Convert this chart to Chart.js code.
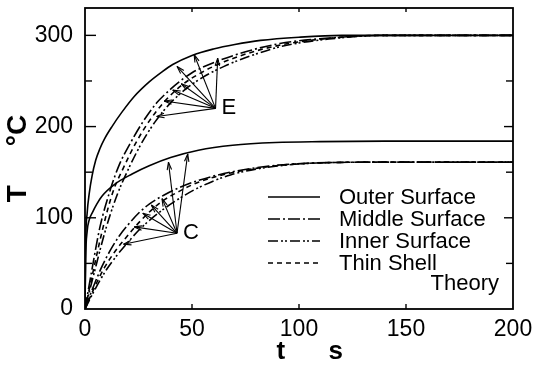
<!DOCTYPE html>
<html><head><meta charset="utf-8">
<script src="https://cdn.jsdelivr.net/npm/chart.js@4/dist/chart.umd.min.js"></script>
<style>html,body{margin:0;padding:0;background:#fff;}</style>
</head><body>
<canvas id="c" width="535" height="365"></canvas>
<script>
// ---- data (time t in s, temperature T in °C) ----
const tOuterE = [0, 0.3, 1, 2, 3.3, 5, 7, 9, 12.6, 17, 23, 30, 36, 41, 50, 60, 70, 82, 100, 120, 150, 200];
const TOuterE = [0, 70, 105, 127, 146, 163, 176, 186, 200, 215, 233, 249, 260, 268, 278, 285, 290, 294.5, 298, 300, 300, 300];
const tMiddleE = [0, 3, 7, 12, 16, 21, 27, 33.5, 40, 44, 50, 60, 75, 91, 114, 140, 200];
const TMiddleE = [0, 40, 90, 132, 158, 181, 205, 226, 241, 249, 259, 270, 282, 291, 297, 300, 300];
const tInnerE = [0, 4, 10, 15, 20, 26, 33, 40, 47, 55, 65, 78, 92, 114, 140, 200];
const TInnerE = [0, 37, 90, 125, 152, 180, 206, 226, 241, 254, 266, 278, 288, 296, 300, 300];
const tThinE = [0, 3.5, 8.5, 13, 18, 23.5, 30, 37, 45, 55, 65, 80, 95, 115, 140, 200];
const TThinE = [0, 38, 90, 128, 155, 181, 206, 227, 245, 260, 271, 283, 291, 297, 300, 300];

const tOuterC = [0, 0.3, 1, 2, 3.5, 5.5, 8, 14, 22, 30, 40, 53, 69, 89, 110, 140, 200];
const TOuterC = [0, 55, 85, 98, 106, 115, 124, 137, 148, 157, 166, 174, 179.5, 182.5, 183.5, 184, 184];
const tMiddleC = [0, 4, 8, 12, 16, 20, 25, 30, 37, 44, 53, 68, 89, 114, 140, 200];
const TMiddleC = [0, 25, 47, 65, 80, 92, 105, 115, 125, 133, 141, 150, 157.5, 160.5, 161, 161];
const tInnerC = [0, 5, 10, 15, 20, 25, 30, 37, 44, 53, 68, 89, 114, 140, 200];
const TInnerC = [0, 23, 43, 59, 73, 86, 97, 110, 121, 133, 147, 156.5, 160.5, 161, 161];
const tThinC = [0, 4.5, 9, 14, 18, 23, 29, 36, 44, 53, 68, 89, 114, 140, 200];
const TThinC = [0, 24, 45, 63, 75, 89, 104, 118, 129, 139, 149, 157, 160.5, 161, 161];

// annotation arrows: label anchor and arrow tips (t, T)
const labelE = ['E', 61, 220];
const arrowTipsE = [[33.5, 211], [37, 228], [41, 240], [45, 247], [43, 266], [51, 279], [62, 275]];
const labelC = ['C', 43, 83];
const arrowTipsC = [[18, 71], [23, 90], [27, 105], [31, 114], [36, 121], [39, 161], [48, 170]];

const legendLabels = ['Outer Surface', 'Middle Surface', 'Inner Surface', 'Thin Shell'];
const legendExtra = 'Theory';
const yTickLabels = [0, 100, 200, 300];
const xTickLabels = [0, 50, 100, 150, 200];
const yMinorTicks = [50, 100, 150, 200, 250, 300];
const xMinorTicks = [50, 100, 150];

// ---- styles ----
const FONT = "'Liberation Sans', Arial, sans-serif";
const dashes = { outer: [], middle: [12, 3, 2, 3], inner: [10, 3, 2, 2, 2, 3], thin: [5, 4] };
const pts = (ts, vs) => ts.map((t, i) => ({ x: t, y: vs[i] }));
const mk = (label, ts, vs, dash) => ({
  label, data: pts(ts, vs), borderColor: '#000', borderWidth: 1.6, borderDash: dash,
  pointRadius: 0, fill: false, cubicInterpolationMode: 'monotone'
});

const datasets = [
  mk('Outer Surface E', tOuterE, TOuterE, dashes.outer),
  mk('Middle Surface E', tMiddleE, TMiddleE, dashes.middle),
  mk('Inner Surface E', tInnerE, TInnerE, dashes.inner),
  mk('Thin Shell Theory E', tThinE, TThinE, dashes.thin),
  mk('Outer Surface C', tOuterC, TOuterC, dashes.outer),
  mk('Middle Surface C', tMiddleC, TMiddleC, dashes.middle),
  mk('Inner Surface C', tInnerC, TInnerC, dashes.inner),
  mk('Thin Shell Theory C', tThinC, TThinC, dashes.thin)
];

function seg(ctx, x1, y1, x2, y2) { ctx.beginPath(); ctx.moveTo(x1, y1); ctx.lineTo(x2, y2); ctx.stroke(); }
function arrow(ctx, x1, y1, x2, y2) {
  seg(ctx, x1, y1, x2, y2);
  const a = Math.atan2(y2 - y1, x2 - x1), L = 8, w = 0.28;
  seg(ctx, x2, y2, x2 - L * Math.cos(a - w), y2 - L * Math.sin(a - w));
  seg(ctx, x2, y2, x2 - L * Math.cos(a + w), y2 - L * Math.sin(a + w));
}

const decor = {
  id: 'decor',
  afterDatasetsDraw(chart) {
    const { ctx, chartArea: a, scales: { x, y } } = chart;
    ctx.save();
    ctx.strokeStyle = '#000'; ctx.fillStyle = '#000'; ctx.setLineDash([]);
    ctx.lineWidth = 1.8;
    ctx.strokeRect(a.left, a.top, a.right - a.left, a.bottom - a.top);
    ctx.lineWidth = 1.4;
    yMinorTicks.forEach(v => {
      const py = y.getPixelForValue(v);
      const major = v % 100 === 0;
      seg(ctx, a.left, py, a.left + (major ? 11 : 7), py);
      seg(ctx, a.right, py, a.right - (major ? 9 : 7), py);
    });
    xMinorTicks.forEach(v => {
      const px = x.getPixelForValue(v);
      seg(ctx, px, a.bottom, px, a.bottom - 5);
      seg(ctx, px, a.top, px, a.top + 4);
    });
    // arrows
    ctx.lineWidth = 1.1;
    [[labelE, arrowTipsE], [labelC, arrowTipsC]].forEach(([lab, tips]) => {
      const ox = x.getPixelForValue(lab[1]), oy = y.getPixelForValue(lab[2]);
      tips.forEach(([tx, tv]) => arrow(ctx, ox, oy, x.getPixelForValue(tx), y.getPixelForValue(tv)));
      ctx.font = '22px ' + FONT; ctx.textBaseline = 'middle'; ctx.textAlign = 'left';
      ctx.fillText(lab[0], ox + 6, oy);
    });
    // legend
    const lx0 = a.left + 183, lx1 = a.left + 235, tx = a.left + 254;
    const rows = [a.top + 189, a.top + 211, a.top + 233, a.top + 255];
    const styles = [dashes.outer, dashes.middle, dashes.inner, dashes.thin];
    ctx.font = '22px ' + FONT; ctx.textBaseline = 'middle'; ctx.textAlign = 'left';
    legendLabels.forEach((lab, i) => {
      ctx.lineWidth = 1.6; ctx.setLineDash(styles[i]);
      seg(ctx, lx0, rows[i], lx1, rows[i]);
      ctx.setLineDash([]);
      ctx.fillText(lab, tx, rows[i] + 1);
    });
    ctx.textAlign = 'right';
    ctx.fillText(legendExtra, a.right - 14, a.top + 276);
    ctx.restore();
  }
};

new Chart(document.getElementById('c'), {
  type: 'line',
  data: { datasets },
  plugins: [decor],
  options: {
    responsive: false, animation: false, devicePixelRatio: 1,
    layout: { padding: { left: 0, right: 22, top: 8, bottom: 0 } },
    plugins: { legend: { display: false }, tooltip: { enabled: false } },
    scales: {
      x: {
        type: 'linear', min: 0, max: 200,
        grid: { display: false, drawTicks: false }, border: { display: false },
        afterBuildTicks: s => { s.ticks = xTickLabels.map(v => ({ value: v })); },
        ticks: { color: '#000', padding: 7, maxRotation: 0, font: { family: FONT, size: 23 } },
        afterFit: s => { s.height = 56; s.paddingLeft = 0; s.paddingRight = 0; },
        title: { display: true, text: '   t      s', color: '#000', padding: 0,
          font: { family: FONT, size: 26, weight: 'bold', lineHeight: 1 } }
      },
      y: {
        type: 'linear', min: 0, max: 330,
        grid: { display: false, drawTicks: false }, border: { display: false },
        afterBuildTicks: s => { s.ticks = yTickLabels.map(v => ({ value: v })); },
        ticks: { color: '#000', padding: 12, font: { family: FONT, size: 23 } },
        afterFit: s => { s.width = 85; s.paddingTop = 0; s.paddingBottom = 0; },
        title: { display: true, text: 'T     °C', color: '#000', padding: { top: 4, bottom: 0 },
          font: { family: FONT, size: 28, weight: 'bold', lineHeight: 1 } }
      }
    }
  }
});
</script>
</body></html>
